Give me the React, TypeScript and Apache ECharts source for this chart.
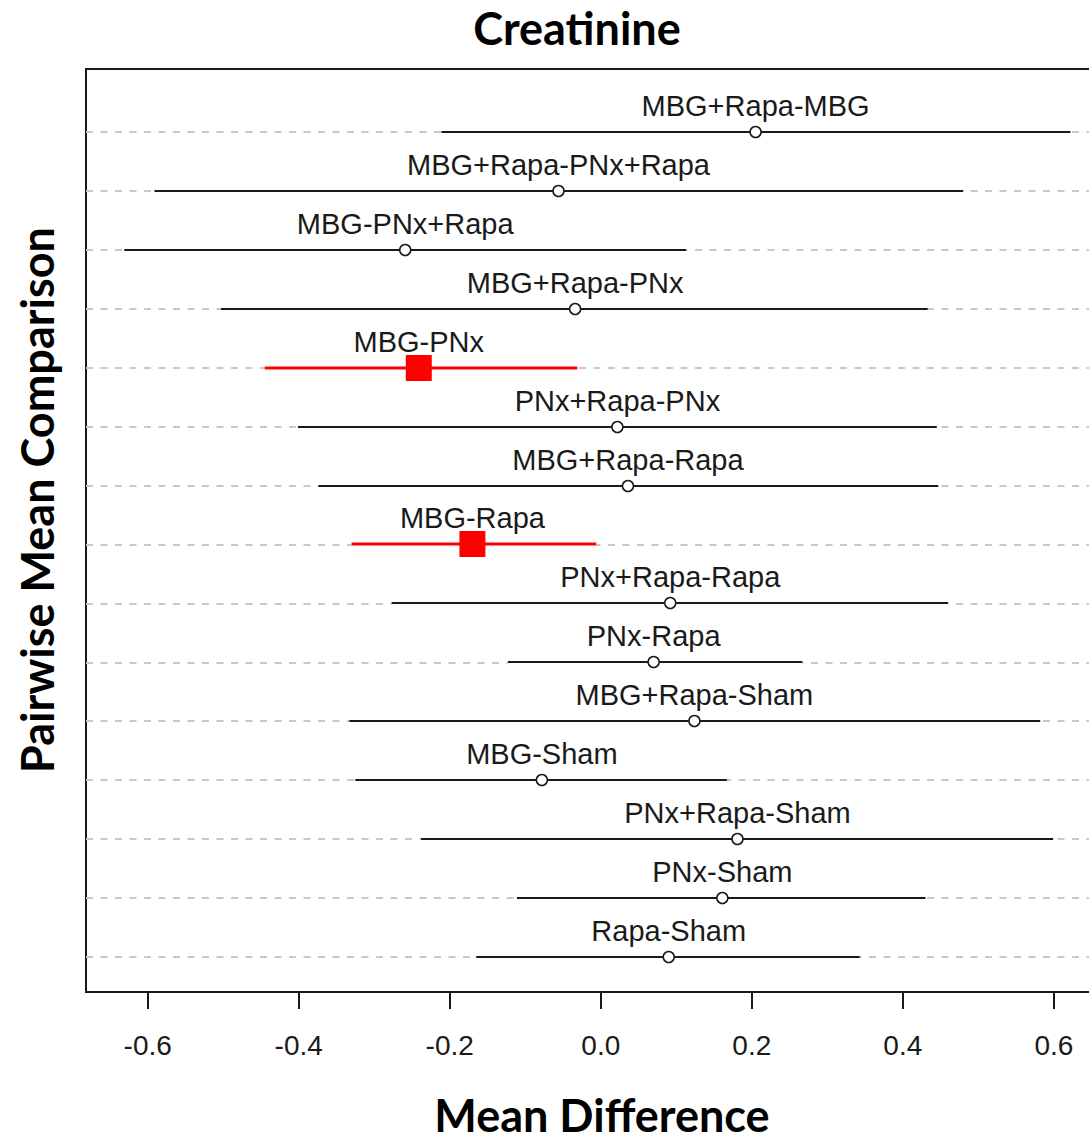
import React, { useEffect, useRef } from "react";
import * as echarts from "echarts";

// Pairwise comparisons, listed from top to bottom
const comparisons = [
  "MBG+Rapa-MBG",
  "MBG+Rapa-PNx+Rapa",
  "MBG-PNx+Rapa",
  "MBG+Rapa-PNx",
  "MBG-PNx",
  "PNx+Rapa-PNx",
  "MBG+Rapa-Rapa",
  "MBG-Rapa",
  "PNx+Rapa-Rapa",
  "PNx-Rapa",
  "MBG+Rapa-Sham",
  "MBG-Sham",
  "PNx+Rapa-Sham",
  "PNx-Sham",
  "Rapa-Sham",
];
const meanDiff = [0.205, -0.056, -0.259, -0.034, -0.241, 0.022, 0.036, -0.17, 0.092, 0.07, 0.124, -0.078, 0.181, 0.161, 0.09];
const lowerCI = [-0.211, -0.591, -0.631, -0.503, -0.445, -0.401, -0.374, -0.33, -0.277, -0.123, -0.333, -0.325, -0.238, -0.111, -0.165];
const upperCI = [0.622, 0.48, 0.113, 0.433, -0.031, 0.445, 0.447, -0.006, 0.46, 0.267, 0.582, 0.167, 0.599, 0.43, 0.343];
const significant = [false, false, false, false, true, false, false, true, false, false, false, false, false, false, false];
const xTicks = [-0.6, -0.4, -0.2, 0.0, 0.2, 0.4, 0.6];

const X_MIN = -0.6817;
const X_MAX = 0.6717;
const Y_MIN = 0.4006;
const Y_MAX = 16.074;

export default function App() {
  const ref = useRef<HTMLDivElement>(null);

  useEffect(() => {
    if (!ref.current) return;
    const chart = echarts.init(ref.current, null, { renderer: "svg" });
    const n = comparisons.length;
    const rows = comparisons.map((name, i) => [
      n - i, // y position (top row highest)
      lowerCI[i],
      upperCI[i],
      meanDiff[i],
      significant[i] ? 1 : 0,
      i,
    ]);

    const option: any = {
      animation: false,
      backgroundColor: "#ffffff",
      grid: {
        left: 86,
        top: 69,
        width: 1022,
        height: 923,
        show: true,
        borderColor: "#1a1a1a",
        borderWidth: 2,
        backgroundColor: "transparent",
      },
      xAxis: {
        type: "value",
        min: X_MIN,
        max: X_MAX,
        axisLine: { show: false },
        splitLine: { show: false },
        axisTick: {
          show: true,
          customValues: xTicks,
          length: 17,
          lineStyle: { color: "#1a1a1a", width: 2 },
        },
        axisLabel: {
          show: true,
          customValues: xTicks,
          margin: 39,
          fontSize: 28,
          fontFamily: "Liberation Sans, Arial, sans-serif",
          color: "#1a1a1a",
          formatter: (v: number) => v.toFixed(1),
        },
      },
      yAxis: {
        type: "value",
        min: Y_MIN,
        max: Y_MAX,
        show: false,
        splitLine: { show: false },
      },
      series: [
        {
          type: "line",
          data: [],
          silent: true,
          z: 1,
          markLine: {
            silent: true,
            symbol: "none",
            z: 1,
            label: { show: false },
            lineStyle: { color: "#c8c8c8", type: [7, 7.5], width: 2 },
            data: comparisons.map((_, i) => ({ yAxis: n - i })),
          },
        },
        {
          type: "custom",
          data: rows,
          clip: false,
          z: 5,
          encode: { x: [1, 2, 3], y: 0 },
          renderItem: (params: any, api: any) => {
            const y = api.value(0);
            const lo = api.coord([api.value(1), y]);
            const hi = api.coord([api.value(2), y]);
            const c = api.coord([api.value(3), y]);
            const py = Math.round(c[1]);
            const sig = api.value(4) === 1;
            const idx = api.value(5);
            const color = sig ? "#ff0000" : "#1a1a1a";
            const children: any[] = [
              {
                type: "line",
                shape: { x1: lo[0], y1: py, x2: hi[0], y2: py },
                style: { stroke: "#ffffff", lineWidth: 5 },
              },
              {
                type: "line",
                shape: { x1: lo[0], y1: py, x2: hi[0], y2: py },
                style: { stroke: color, lineWidth: sig ? 3 : 2.2 },
              },
            ];
            if (sig) {
              children.push({
                type: "rect",
                shape: { x: c[0] - 13, y: py - 13, width: 26, height: 26 },
                style: { fill: "#ff0000" },
              });
            } else {
              children.push({
                type: "circle",
                shape: { cx: c[0], cy: py, r: 5.5 },
                style: { fill: "#ffffff", stroke: "#1a1a1a", lineWidth: 1.5 },
              });
            }
            children.push({
              type: "text",
              x: c[0],
              y: py - 26,
              style: {
                text: comparisons[idx],
                fontSize: 29,
                fontFamily: "Liberation Sans, Arial, sans-serif",
                fill: "#1a1a1a",
                align: "center",
                verticalAlign: "middle",
              },
            });
            return { type: "group", children };
          },
        },
      ],
      graphic: [
        {
          type: "text",
          x: 577,
          y: 28,
          style: {
            text: "Creatinine",
            fontSize: 45,
            fontWeight: "bold",
            fontFamily: "Lato, sans-serif",
            fill: "#000000",
            align: "center",
            verticalAlign: "middle",
          },
        },
        {
          type: "text",
          x: 602,
          y: 1115,
          style: {
            text: "Mean Difference",
            fontSize: 45,
            fontWeight: "bold",
            fontFamily: "Lato, sans-serif",
            fill: "#000000",
            align: "center",
            verticalAlign: "middle",
          },
        },
        {
          type: "text",
          x: 37,
          y: 500,
          rotation: Math.PI / 2,
          style: {
            text: "Pairwise Mean Comparison",
            fontSize: 45,
            fontWeight: "bold",
            fontFamily: "Lato, sans-serif",
            fill: "#000000",
            align: "center",
            verticalAlign: "middle",
          },
        },
      ],
    };

    chart.setOption(option);
    return () => chart.dispose();
  }, []);

  return (
    <div
      style={{
        position: "fixed",
        left: 0,
        top: 0,
        width: 1089,
        height: 1141,
        overflow: "hidden",
        background: "#fff",
      }}
    >
      <div ref={ref} style={{ width: 1130, height: 1141 }} />
    </div>
  );
}
